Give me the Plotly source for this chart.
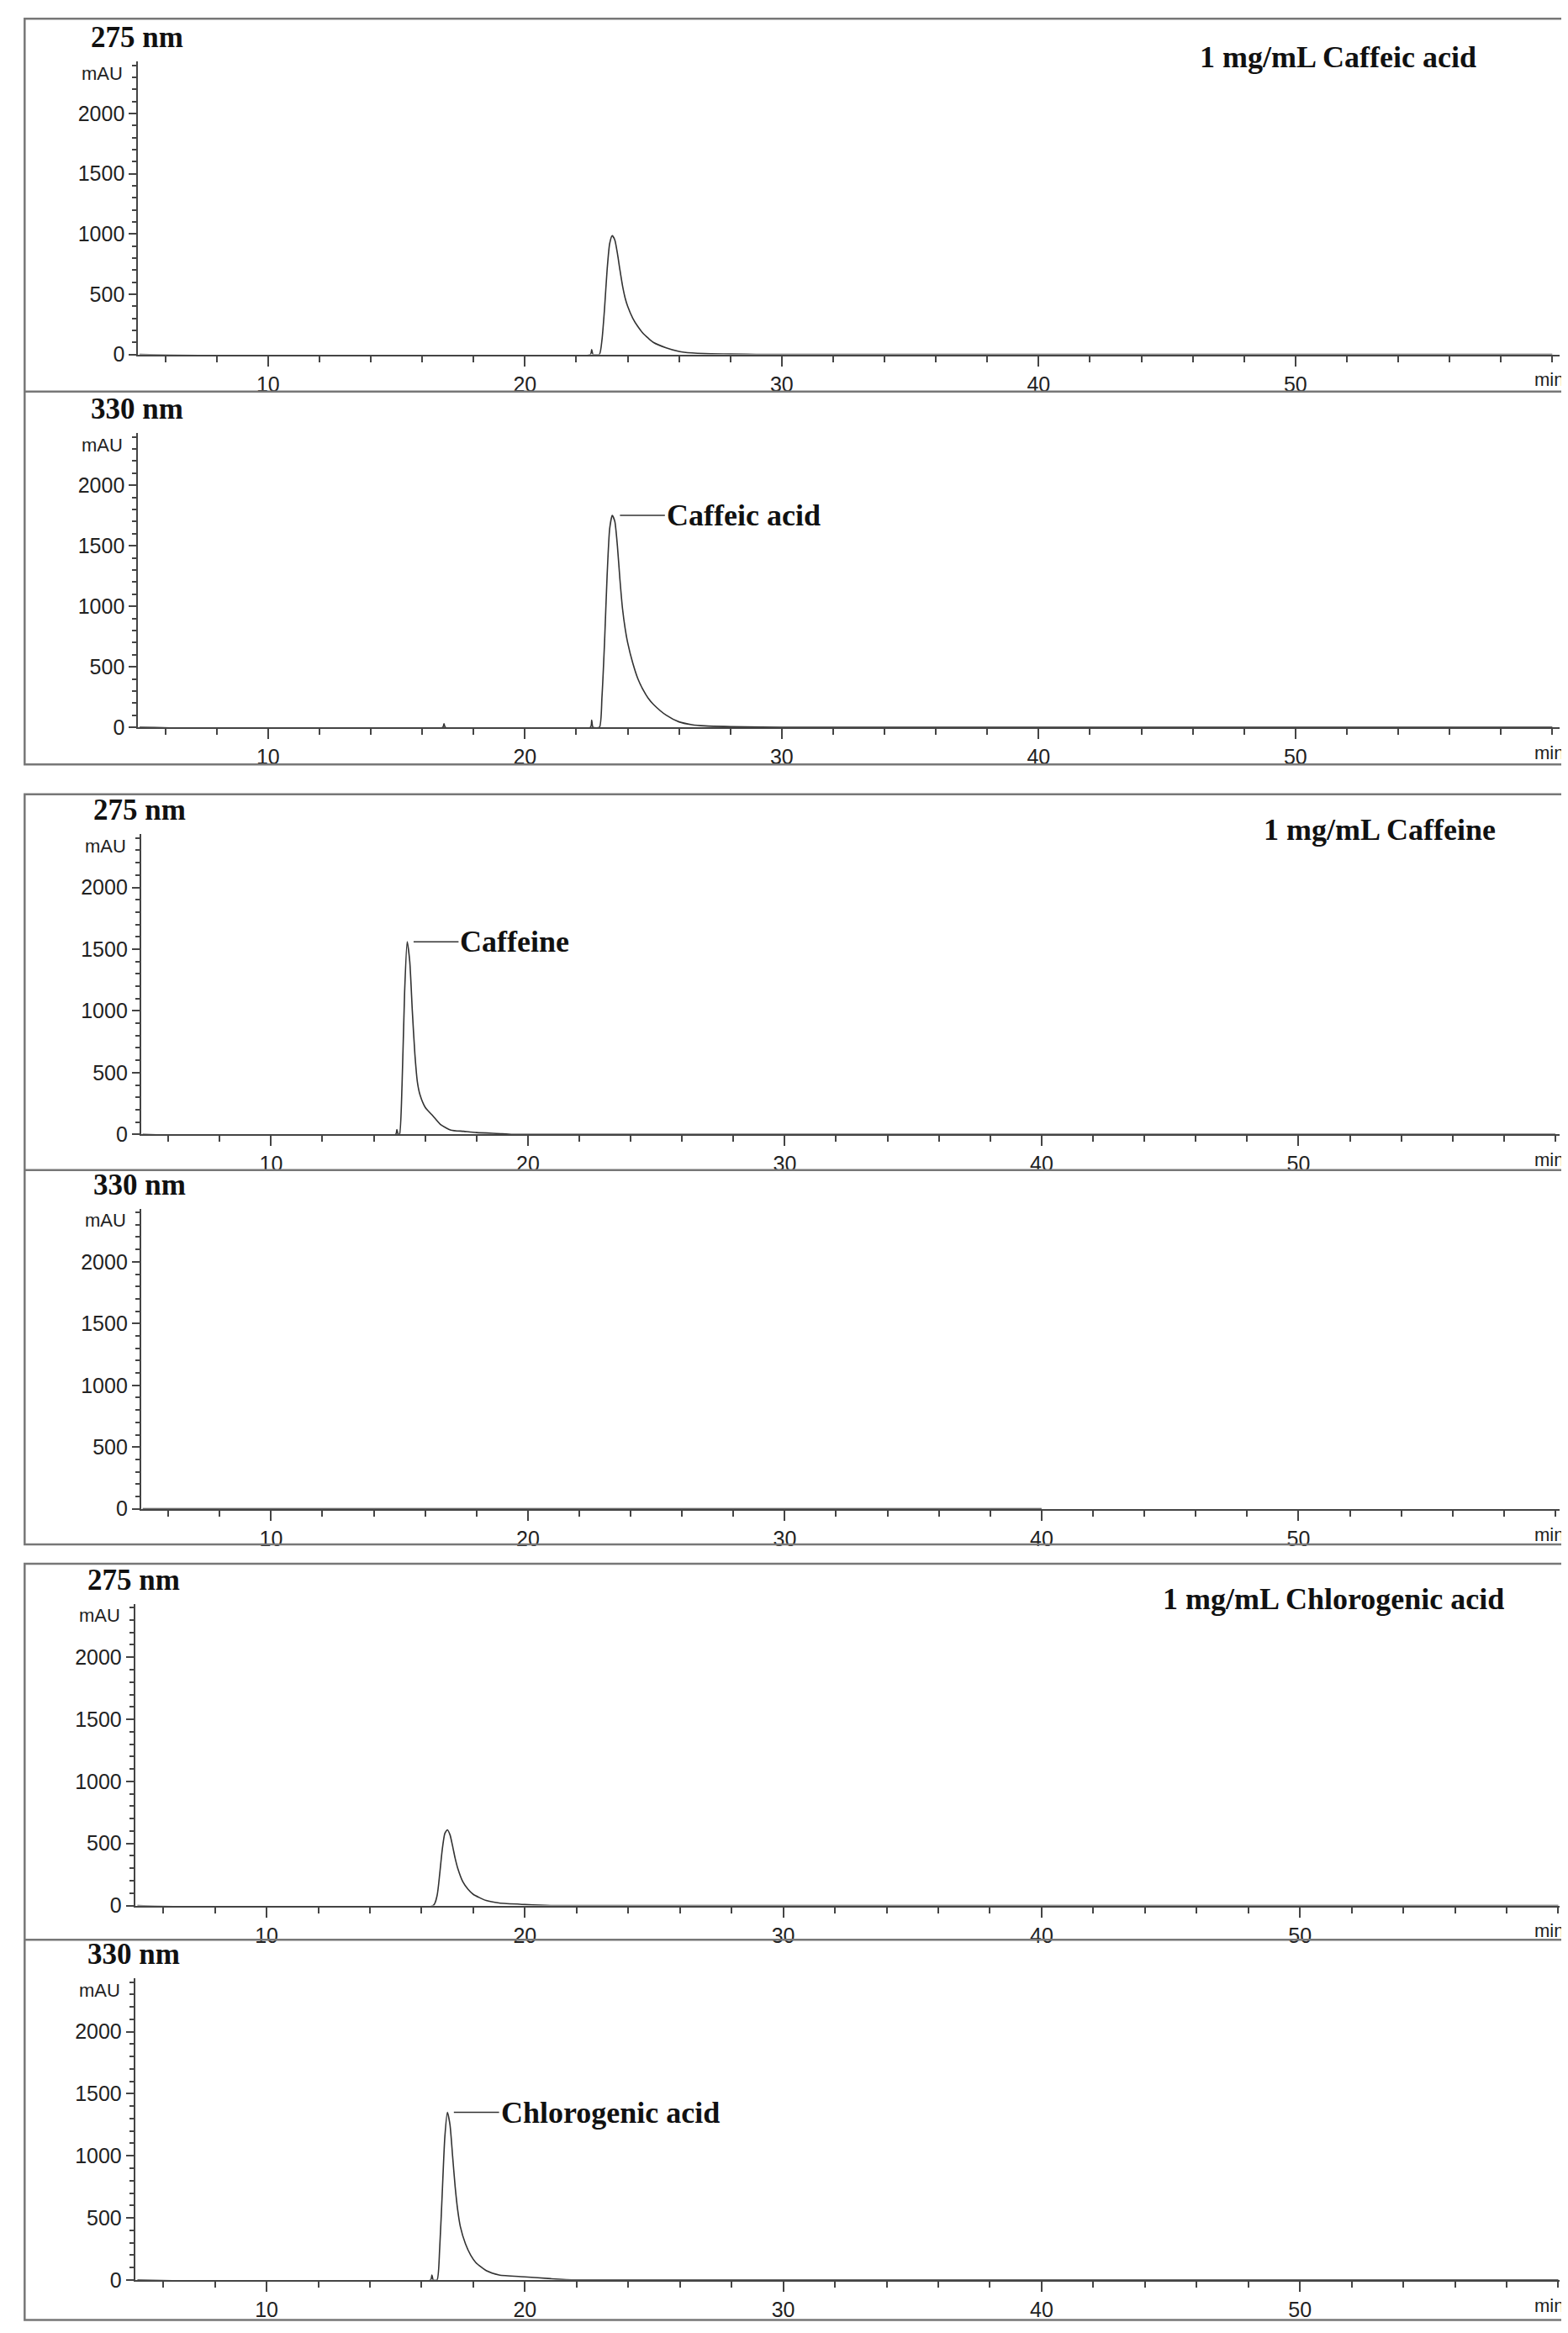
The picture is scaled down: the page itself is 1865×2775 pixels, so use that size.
import plotly.graph_objects as go

W, H = 1865, 2775
S = 1865 / 1050.0

# ---- data (time in min, absorbance in mAU) ----
ca275_t = [5, 22.55, 22.6, 22.65, 22.9, 23.0, 23.1, 23.2, 23.3, 23.4, 23.5, 23.6, 23.7, 23.8, 23.9, 24.0, 24.2, 24.4, 24.6, 24.8, 25.0, 25.5, 26.0, 26.5, 27.0, 28.0, 29.0, 60]
ca275_y = [0, 0, 40, 0, 0, 120, 380, 700, 920, 985, 950, 840, 700, 570, 470, 400, 300, 230, 175, 135, 100, 55, 25, 12, 6, 3, 0, 0]
ca330_t = [5, 16.8, 16.85, 16.9, 22.55, 22.6, 22.65, 22.9, 23.0, 23.1, 23.2, 23.3, 23.4, 23.5, 23.6, 23.7, 23.8, 23.9, 24.0, 24.2, 24.4, 24.6, 24.8, 25.0, 25.5, 26.0, 26.5, 27.0, 28.0, 30.0, 60]
ca330_y = [0, 0, 30, 0, 0, 60, 0, 0, 250, 700, 1250, 1640, 1750, 1700, 1500, 1220, 980, 820, 700, 530, 400, 310, 240, 190, 100, 45, 22, 12, 6, 0, 0]
cf275_t = [5, 14.85, 14.9, 14.95, 15.0, 15.1, 15.2, 15.3, 15.4, 15.5, 15.6, 15.7, 15.8, 16.0, 16.3, 16.6, 17.0, 17.5, 18.0, 19.0, 19.5, 60]
cf275_y = [0, 0, 40, 0, 0, 400, 1150, 1560, 1400, 1000, 650, 420, 320, 220, 150, 80, 35, 25, 15, 6, 0, 0]
cf330_t = [5, 40]
cf330_y = [0, 0]
cg275_t = [5, 16.45, 16.6, 16.7, 16.8, 16.9, 17.0, 17.1, 17.2, 17.3, 17.4, 17.6, 17.8, 18.0, 18.5, 19.0, 20.0, 21.0, 60]
cg275_y = [0, 0, 80, 250, 450, 580, 610, 570, 480, 380, 300, 190, 130, 90, 40, 20, 8, 0, 0]
cg330_t = [5, 16.35, 16.4, 16.45, 16.6, 16.7, 16.8, 16.9, 17.0, 17.1, 17.2, 17.3, 17.4, 17.5, 17.7, 17.9, 18.1, 18.5, 19.0, 20.0, 21.0, 22.0, 60]
cg330_y = [0, 0, 40, 0, 0, 250, 700, 1150, 1350, 1250, 1000, 750, 560, 430, 290, 200, 140, 75, 40, 25, 10, 0, 0]

panels = [
    dict(t=ca275_t, y=ca275_y, nm="275 nm", title="1 mg/mL Caffeic acid", label=None,
         zero=234, top=37, x10=175, x20=347, xl=88),
    dict(t=ca330_t, y=ca330_y, nm="330 nm", title=None, label=("Caffeic acid", 23.45, 1750),
         zero=485, top=287, x10=175, x20=347, xl=88),
    dict(t=cf275_t, y=cf275_y, nm="275 nm", title="1 mg/mL Caffeine", label=("Caffeine", 15.3, 1560),
         zero=759, top=557, x10=177, x20=349, xl=90),
    dict(t=cf330_t, y=cf330_y, nm="330 nm", title=None, label=None,
         zero=1011, top=809, x10=177, x20=349, xl=90),
    dict(t=cg275_t, y=cg275_y, nm="275 nm", title="1 mg/mL Chlorogenic acid", label=None,
         zero=1278, top=1075, x10=174, x20=347, xl=86),
    dict(t=cg330_t, y=cg330_y, nm="330 nm", title=None, label=("Chlorogenic acid", 17.0, 1350),
         zero=1530, top=1327, x10=174, x20=347, xl=86),
]
XR = 1040  # scaled right end of x axis

fig = go.Figure()
layout = dict(width=W, height=H, margin=dict(l=0, r=0, t=0, b=0),
              paper_bgcolor="white", plot_bgcolor="white", showlegend=False)
shapes, annots = [], []

def py(v):
    return 1 - v * S / H
def px(v):
    return v * S / W

for i, p in enumerate(panels):
    n = i + 1
    xa = "xaxis" if n == 1 else f"xaxis{n}"
    ya = "yaxis" if n == 1 else f"yaxis{n}"
    xr = "x" if n == 1 else f"x{n}"
    yr = "y" if n == 1 else f"y{n}"
    ppm = (p["x20"] - p["x10"]) / 10.0
    x0 = 10 - (p["x10"] - p["xl"]) / ppm
    x1 = 10 + (XR - p["x10"]) / ppm
    fig.add_trace(go.Scatter(x=p["t"], y=p["y"], mode="lines", xaxis=xr, yaxis=yr,
                             line=dict(color="#333", width=1.6, shape="spline", smoothing=0.6)))
    tickf = dict(family="Liberation Sans Narrow, Liberation Sans, Arial", size=25, color="#222")
    layout[xa] = dict(domain=[px(p["xl"]), px(XR)], range=[x0, x1], anchor=yr,
                      showline=True, linecolor="#444", linewidth=2, showgrid=False, zeroline=False,
                      ticks="outside", ticklen=12, tickwidth=1.5, tickcolor="#444",
                      tickvals=[10, 20, 30, 40, 50], tickfont=tickf,
                      minor=dict(dtick=2, tick0=0, ticks="outside", ticklen=7, tickcolor="#444"))
    layout[ya] = dict(domain=[py(p["zero"]), py(p["top"])], range=[0, 2430], anchor=xr,
                      showline=True, linecolor="#444", linewidth=2, showgrid=False, zeroline=False,
                      ticks="outside", ticklen=9, tickwidth=1.5, tickcolor="#444",
                      tickvals=[0, 500, 1000, 1500, 2000], tickfont=tickf,
                      minor=dict(dtick=100, ticks="outside", ticklen=5, tickcolor="#444"))
    annots.append(dict(text="<b>" + p["nm"] + "</b>", xref="paper", yref="paper",
                       x=px(p["xl"] - 33), y=py(p["top"] - 4), xanchor="left", yanchor="bottom",
                       showarrow=False, font=dict(family="Liberation Serif", size=35, color="#111")))
    annots.append(dict(text="mAU", xref="paper", yref="paper", x=px(p["xl"] - 9), y=py(p["top"] + 8),
                       xanchor="right", yanchor="middle", showarrow=False,
                       font=dict(family="Liberation Sans Narrow, Liberation Sans", size=22, color="#222")))
    annots.append(dict(text="min", xref="paper", yref="paper", x=px(XR + 4), y=py(p["zero"] + 9),
                       xanchor="right", yanchor="top", showarrow=False,
                       font=dict(family="Liberation Sans Narrow, Liberation Sans", size=22, color="#222")))
    if p["title"]:
        annots.append(dict(text="<b>" + p["title"] + "</b>", xref="paper", yref="paper",
                           x=px(985 if n == 1 else (998 if n == 3 else 1004)), y=py(p["top"] - 3),
                           xanchor="right", yanchor="middle", showarrow=False,
                           font=dict(family="Liberation Serif", size=36, color="#111")))
    if p["label"]:
        txt, lx, ly = p["label"]
        shapes.append(dict(type="line", xref=xr, yref=yr, x0=lx + 0.25, x1=lx + 2.0, y0=ly, y1=ly,
                           line=dict(color="#333", width=1.5)))
        annots.append(dict(text="<b>" + txt + "</b>", xref=xr, yref=yr, x=lx + 2.0, y=ly,
                           xanchor="left", yanchor="middle", showarrow=False,
                           font=dict(family="Liberation Serif", size=36, color="#111")))

for (top, mid, bot) in [(8, 259, 510), (530, 783, 1035), (1048, 1301, 1557)]:
    shapes.append(dict(type="rect", xref="paper", yref="paper", x0=px(12), x1=px(1045),
                       y0=py(bot), y1=py(top), line=dict(color="#777", width=2.5)))
    shapes.append(dict(type="line", xref="paper", yref="paper", x0=px(12), x1=px(1045),
                       y0=py(mid), y1=py(mid), line=dict(color="#777", width=2.5)))

layout["shapes"] = shapes
layout["annotations"] = annots
fig.update_layout(**layout)
fig.write_html("out.html")
